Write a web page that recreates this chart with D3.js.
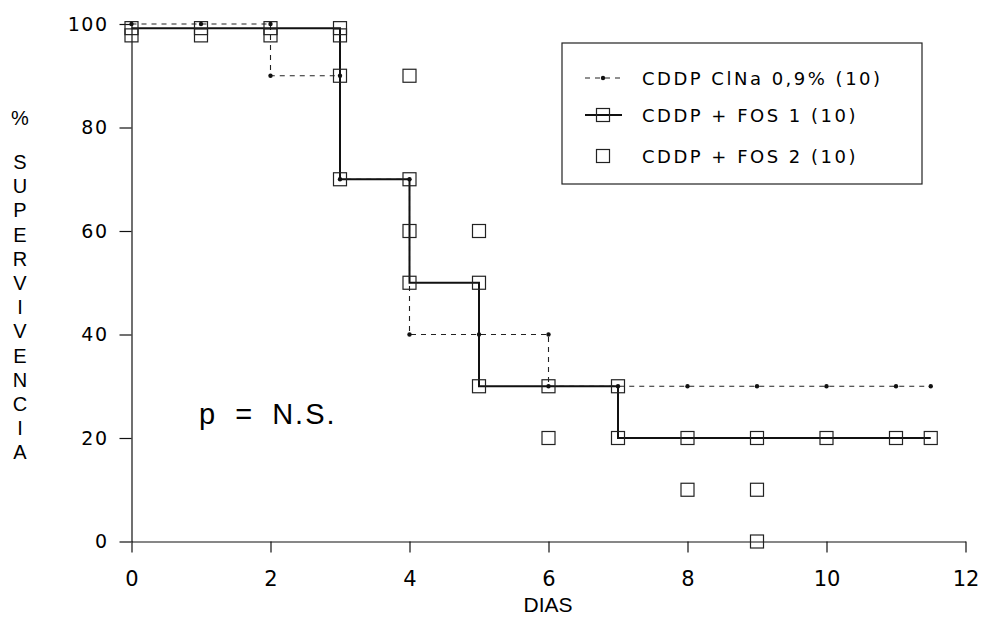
<!DOCTYPE html>
<html>
<head>
<meta charset="utf-8">
<script src="https://cdn.jsdelivr.net/npm/d3@7"></script>
<style>
  html, body { margin: 0; padding: 0; background: #fff; }
  svg { display: block; }
  text { font-family: "DejaVu Sans", "Liberation Sans", Arial, sans-serif; fill: #000; }
</style>
</head>
<body>
<svg id="chart" width="981" height="621"></svg>
<script>
// ---- data ----
const xTicks = [0, 2, 4, 6, 8, 10, 12];
const yTicks = [0, 20, 40, 60, 80, 100];

// CDDP ClNa 0,9% (10): step curve + dot markers
const clnaStepT = [0, 1, 2, 3, 4, 5, 6, 7, 8, 9, 10, 11, 11.5];
const clnaStepV = [100, 100, 90, 70, 40, 40, 30, 30, 30, 30, 30, 30, 30];
const clnaDotT = [0, 1, 2, 2, 3, 3, 4, 4, 5, 6, 6, 7, 8, 9, 10, 11, 11.5];
const clnaDotV = [100, 100, 100, 90, 90, 70, 70, 40, 40, 40, 30, 30, 30, 30, 30, 30, 30];

// CDDP + FOS 1 (10): step curve + square markers
const fos1StepT = [0, 1, 2, 3, 4, 5, 6, 7, 8, 9, 10, 11, 11.5];
const fos1StepV = [99.2, 99.2, 99.2, 70, 50, 30, 30, 20, 20, 20, 20, 20, 20];
const fos1SqT = [0, 1, 2, 3, 3, 4, 4, 5, 5, 6, 7, 7, 8, 9, 10, 11, 11.5];
const fos1SqV = [99.2, 99.2, 99.2, 99.2, 70, 70, 50, 50, 30, 30, 30, 20, 20, 20, 20, 20, 20];

// CDDP + FOS 2 (10): square markers only
const fos2SqT = [0, 1, 2, 3, 3, 4, 4, 5, 6, 8, 9, 9];
const fos2SqV = [97.8, 97.8, 97.8, 97.8, 90, 90, 60, 60, 20, 10, 10, 0];

const legendLabels = ["CDDP ClNa 0,9% (10)", "CDDP + FOS 1 (10)", "CDDP + FOS 2 (10)"];
const yTitle = ["%", "S", "U", "P", "E", "R", "V", "I", "V", "E", "N", "C", "I", "A"];
const xTitle = "DIAS";
const note = "p = N.S.";

// ---- drawing ----
const svg = d3.select("#chart");
const x = d3.scaleLinear().domain([0, 12]).range([131.5, 965.5]);
const y = d3.scaleLinear().domain([0, 100]).range([541.5, 24]);
const ink = "#111";

// axes
const gx = svg.append("g").attr("transform", `translate(0,${y(0)})`)
  .call(d3.axisBottom(x).tickValues(xTicks).tickSize(11).tickSizeOuter(0).tickPadding(19).tickFormat(d3.format("d")));
gx.selectAll("text").style("font-size", "21px").style("font-family", "'DejaVu Sans', sans-serif");
const gy = svg.append("g").attr("transform", `translate(${x(0)},0)`)
  .call(d3.axisLeft(y).tickValues(yTicks).tickSize(12).tickSizeOuter(0).tickPadding(11).tickFormat(d3.format("d")));
gy.selectAll("text").style("font-size", "19px").style("letter-spacing", "1.5px")
  .style("font-family", "'DejaVu Sans', sans-serif");
svg.selectAll(".domain, .tick line").attr("stroke", ink).attr("stroke-width", 1.2);

// step lines
const stepLine = d3.line().curve(d3.curveStepAfter).x(d => x(d[0])).y(d => y(d[1]));
svg.append("path")
  .datum(d3.zip(clnaStepT, clnaStepV))
  .attr("d", stepLine).attr("fill", "none").attr("stroke", "#222")
  .attr("stroke-width", 1.1).attr("stroke-dasharray", "5,5");
svg.append("path")
  .datum(d3.zip(fos1StepT, fos1StepV))
  .attr("d", stepLine).attr("fill", "none").attr("stroke", ink).attr("stroke-width", 2);

// squares
const sq = 13;
function squares(T, V) {
  svg.append("g").selectAll("rect").data(d3.zip(T, V)).join("rect")
    .attr("x", d => x(d[0]) - sq / 2).attr("y", d => y(d[1]) - sq / 2)
    .attr("width", sq).attr("height", sq)
    .attr("fill", "none").attr("stroke", "#222").attr("stroke-width", 1.2);
}
squares(fos1SqT, fos1SqV);
squares(fos2SqT, fos2SqV);

// dots
svg.append("g").selectAll("circle").data(d3.zip(clnaDotT, clnaDotV)).join("circle")
  .attr("cx", d => x(d[0])).attr("cy", d => y(d[1])).attr("r", 2.2).attr("fill", ink);

// legend
const lg = svg.append("g");
lg.append("rect").attr("x", 562).attr("y", 43).attr("width", 360).attr("height", 141)
  .attr("fill", "#fff").attr("stroke", "#222").attr("stroke-width", 1.2);
const rowsY = [78, 115, 156];
lg.append("line").attr("x1", 585).attr("x2", 622).attr("y1", rowsY[0]).attr("y2", rowsY[0])
  .attr("stroke", "#222").attr("stroke-width", 1.1).attr("stroke-dasharray", "5,5");
lg.append("circle").attr("cx", 603).attr("cy", rowsY[0]).attr("r", 2.2).attr("fill", ink);
lg.append("line").attr("x1", 585).attr("x2", 622).attr("y1", rowsY[1]).attr("y2", rowsY[1])
  .attr("stroke", ink).attr("stroke-width", 2);
lg.append("rect").attr("x", 603 - sq / 2).attr("y", rowsY[1] - sq / 2).attr("width", sq).attr("height", sq)
  .attr("fill", "none").attr("stroke", "#222").attr("stroke-width", 1.2);
lg.append("rect").attr("x", 603 - sq / 2).attr("y", rowsY[2] - sq / 2).attr("width", sq).attr("height", sq)
  .attr("fill", "none").attr("stroke", "#222").attr("stroke-width", 1.2);
lg.selectAll("text.lab").data(legendLabels).join("text").attr("class", "lab")
  .attr("x", 642).attr("y", (d, i) => rowsY[i] + 7)
  .style("font-size", "18px").style("letter-spacing", "2.5px")
  .text(d => d);

// y title (stacked letters)
svg.append("g").selectAll("text").data(yTitle).join("text")
  .attr("x", 20).attr("text-anchor", "middle")
  .attr("y", (d, i) => i === 0 ? 125 : 169 + (i - 1) * 24.2)
  .style("font-size", "20px")
  .style("font-family", "'Liberation Sans', Arial, sans-serif")
  .text(d => d);

// x title
svg.append("text").attr("x", 548).attr("y", 612).attr("text-anchor", "middle")
  .style("font-size", "21px").style("font-family", "'Liberation Sans', Arial, sans-serif")
  .text(xTitle);

// annotation
svg.append("text").attr("x", 199).attr("y", 424)
  .style("font-size", "29px").style("font-family", "'Liberation Sans', Arial, sans-serif")
  .style("letter-spacing", "2px").style("word-spacing", "8px").text(note);
</script>
</body>
</html>
